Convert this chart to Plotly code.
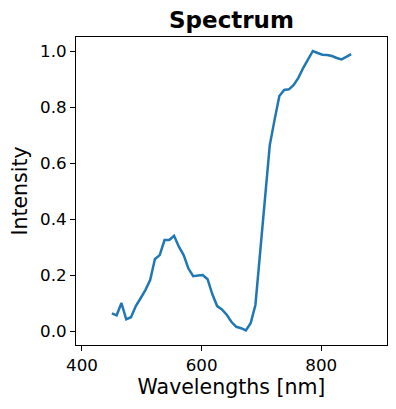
import plotly.graph_objects as go

wavelengths = [450, 458, 466, 474, 482, 490, 498, 506, 514, 522,
               530, 538, 546, 554, 562, 570, 578, 586, 594, 602,
               610, 618, 626, 634, 642, 650, 658, 666, 674, 682,
               690, 698, 706, 714, 722, 730, 738, 746, 754, 762,
               770, 778, 786, 794, 802, 810, 818, 826, 834, 842, 850]
intensity = [0.063, 0.056, 0.100, 0.042, 0.049, 0.089, 0.117, 0.146, 0.182, 0.257,
             0.271, 0.325, 0.325, 0.340, 0.301, 0.271, 0.223, 0.196, 0.198, 0.200,
             0.185, 0.131, 0.089, 0.077, 0.058, 0.032, 0.015, 0.010, 0.002, 0.028,
             0.093, 0.285, 0.475, 0.664, 0.754, 0.839, 0.861, 0.863, 0.879, 0.905,
             0.940, 0.971, 1.000, 0.993, 0.987, 0.986, 0.982, 0.975, 0.970, 0.979, 0.989]
x_ticks = [400, 600, 800]
y_ticks = [0.0, 0.2, 0.4, 0.6, 0.8, 1.0]

FONT = "DejaVu Sans"

fig = go.Figure(go.Scatter(x=wavelengths, y=intensity, mode="lines",
                           line=dict(color="#1f77b4", width=2.5)))

axis_common = dict(showline=True, linecolor="black", linewidth=1, mirror=True,
                   ticks="outside", ticklen=5, tickwidth=1, tickcolor="black",
                   showgrid=False, zeroline=False, automargin=False,
                   tickfont=dict(family=FONT, size=16.7, color="black"))

# page body has an 8px default margin, so the figure is sized to fit after it
W, H = 388, 401
fig.update_layout(
    width=W, height=H,
    margin=dict(l=68, r=9, t=29, b=64),
    plot_bgcolor="white", paper_bgcolor="white",
    showlegend=False,
    title=dict(text="<b>Spectrum</b>", x=0.5, xref="paper", xanchor="center",
               y=1 - 12 / H, yref="container", yanchor="middle",
               font=dict(family=FONT, size=23, color="black")),
    xaxis=dict(range=[390, 910], tickvals=x_ticks,
               ticktext=[str(v) for v in x_ticks],
               title=dict(text="Wavelengths [nm]", standoff=5,
                          font=dict(family=FONT, size=20.5, color="black")),
               **axis_common),
    yaxis=dict(range=[-0.05, 1.05], tickvals=y_ticks,
               ticktext=[f"{v:.1f}" for v in y_ticks],
               title=dict(text="Intensity", standoff=8,
                          font=dict(family=FONT, size=20.5, color="black")),
               **axis_common),
)

fig.write_html("out.html")
